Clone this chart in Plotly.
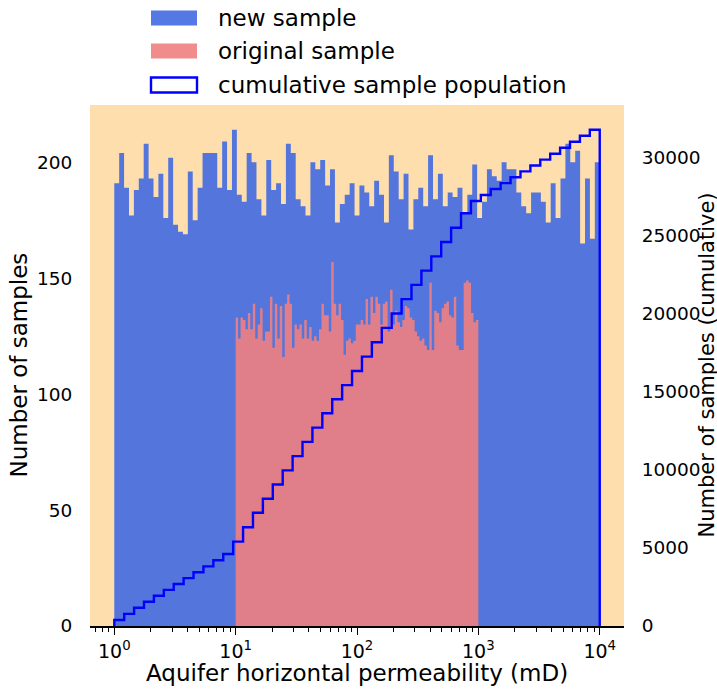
import numpy as np
import plotly.graph_objects as go

# ---------------- data ----------------
new_sample_counts = [
    191, 204, 189, 177, 188, 193, 208, 193, 185, 195,
    176, 202, 173, 170, 169, 196, 175, 189, 204, 204,
    204, 189, 209, 188, 214, 186, 183, 204, 200, 184,
    177, 201, 188, 191, 182, 208, 204, 184, 181, 177,
    200, 197, 201, 190, 197, 174, 182, 186, 191, 177,
    190, 187, 181, 192, 186, 174, 203, 196, 184, 195,
    171, 184, 189, 181, 203, 184, 195, 181, 187, 185,
    189, 178, 186, 199, 176, 183, 197, 194, 192, 200,
    197, 197, 187, 181, 178, 187, 187, 183, 174, 191,
    176, 193, 208, 200, 205, 165, 193, 167, 200,
]
original_sample_counts = [
    133, 124, 133, 132, 128, 135, 128, 139, 124, 130,
    137, 123, 127, 127, 142, 120, 139, 124, 138, 116,
    139, 143, 139, 120, 130, 128, 130, 124, 132, 124,
    129, 123, 125, 123, 128, 139, 134, 134, 127, 157,
    139, 134, 139, 132, 117, 123, 124, 122, 123, 130,
    130, 132, 130, 141, 130, 142, 135, 142, 139, 130,
    139, 140, 127, 145, 130, 136, 131, 129, 132, 138,
    137, 133, 132, 127, 125, 123, 124, 121, 119, 148,
    119, 136, 135, 131, 137, 139, 140, 134, 133, 142,
    121, 119, 119, 148, 149, 148, 135, 131, 132,
]
cumulative_counts = [
    388, 778, 1166, 1554, 1942, 2317, 2693, 3068, 3444, 3820,
    4216, 4613, 5407, 6330, 7250, 8154, 9060, 9970, 10881, 11794,
    12711, 13626, 14529, 15430, 16338, 17254, 18176, 19096, 20016, 20937,
    21852, 22767, 23681, 24596, 25513, 26436, 27224, 27607, 27990, 28370,
    28746, 29123, 29498, 29875, 30254, 30637, 31020, 31403, 31786,
]
new_range = (0, 4)        # log10 of bin range
orig_range = (1, 3)
cum_range = (0, 4)
x_tick_exponents = [0, 1, 2, 3, 4]
left_ticks = [0, 50, 100, 150, 200]
right_ticks = [0, 5000, 10000, 15000, 20000, 25000, 30000]
legend_labels = ["new sample", "original sample", "cumulative sample population"]

# ---------------- styling / layout ----------------
W, H = 717, 689
ML, MR, MT, MB = 90, 93, 105, 63
PW, PH = W - ML - MR, H - MT - MB
FONT = "DejaVu Sans"
BLUE_FILL = "rgba(65,105,225,0.9)"
RED_FILL = "rgba(240,128,128,0.9)"
CUM_LINE = "#0000FF"
BG = "#FFDEAD"
TICK_SIZE = 18.5
LABEL_SIZE = 23


def px_x(px):
    return (px - ML) / PW


def px_y(py):
    return (H - MB - py) / PH


def step_xy(edges, counts):
    x = list(edges)
    y = list(counts) + [counts[-1]]
    return x, y


new_edges = np.logspace(new_range[0], new_range[1], len(new_sample_counts) + 1)
orig_edges = np.logspace(orig_range[0], orig_range[1], len(original_sample_counts) + 1)
cum_edges = np.logspace(cum_range[0], cum_range[1], len(cumulative_counts) + 1)

fig = go.Figure()

nx, ny = step_xy(new_edges, new_sample_counts)
fig.add_trace(go.Scatter(x=nx, y=ny, mode="lines", line=dict(shape="hv", width=0, color=BLUE_FILL),
                         fill="tozeroy", fillcolor=BLUE_FILL, name=legend_labels[0],
                         showlegend=False, hoverinfo="skip"))
ox, oy = step_xy(orig_edges, original_sample_counts)
fig.add_trace(go.Scatter(x=ox, y=oy, mode="lines", line=dict(shape="hv", width=0, color=RED_FILL),
                         fill="tozeroy", fillcolor=RED_FILL, name=legend_labels[1],
                         showlegend=False, hoverinfo="skip"))

# cumulative outline (matplotlib histtype='step')
cx = [cum_edges[0]] + list(cum_edges) + [cum_edges[-1]]
cy = [0] + list(cumulative_counts) + [cumulative_counts[-1], 0]
fig.add_trace(go.Scatter(x=cx, y=cy, mode="lines", line=dict(shape="hv", width=2.4, color=CUM_LINE),
                         name=legend_labels[2], yaxis="y2", showlegend=False, hoverinfo="skip"))

minor_vals = []
for d in range(-1, 5):
    for m in range(2, 10):
        v = m * 10.0 ** d
        if 10 ** -0.2 <= v <= 10 ** 4.2:
            minor_vals.append(v)

fig.update_layout(
    width=W, height=H,
    margin=dict(l=ML, r=MR, t=MT, b=MB),
    paper_bgcolor="white", plot_bgcolor=BG,
    font=dict(family=FONT, size=TICK_SIZE, color="black"),
    showlegend=False,
    xaxis=dict(
        type="log", range=[-0.2, 4.2],
        tickmode="array",
        tickvals=[10 ** e for e in x_tick_exponents],
        ticktext=[f"10<sup>{e}</sup>" for e in x_tick_exponents],
        ticks="outside", ticklen=7, tickwidth=1.3, tickcolor="black",
        showline=True, linecolor="black", linewidth=1.6,
        showgrid=False, zeroline=False,
        minor=dict(tickmode="array", tickvals=minor_vals, ticks="outside", ticklen=4,
                   tickwidth=1, tickcolor="black", showgrid=False),
        tickfont=dict(size=19),
    ),
    yaxis=dict(
        range=[0, 1.05 * max(new_sample_counts)],
        tickmode="array", tickvals=left_ticks, ticktext=[str(v) for v in left_ticks],
        ticks="outside", ticklen=13, tickcolor="rgba(0,0,0,0)",
        showline=False, showgrid=False, zeroline=False,
        tickfont=dict(size=TICK_SIZE),
    ),
    yaxis2=dict(
        overlaying="y", side="right",
        range=[0, 1.05 * max(cumulative_counts)],
        tickmode="array", tickvals=right_ticks, ticktext=[str(v) for v in right_ticks],
        ticks="outside", ticklen=13, tickcolor="rgba(0,0,0,0)",
        showline=False, showgrid=False, zeroline=False,
        tickfont=dict(size=TICK_SIZE),
    ),
)

ann = []
# axis titles
ann.append(dict(text="Aquifer horizontal permeability (mD)", x=0.5, y=px_y(688),
                xref="paper", yref="paper", showarrow=False, xanchor="center", yanchor="bottom",
                font=dict(size=LABEL_SIZE)))
ann.append(dict(text="Number of samples", x=px_x(18), y=0.5,
                xref="paper", yref="paper", showarrow=False, xanchor="center", yanchor="middle",
                textangle=-90, font=dict(size=LABEL_SIZE)))
ann.append(dict(text="Number of samples (cumulative)", x=px_x(706), y=0.5,
                xref="paper", yref="paper", showarrow=False, xanchor="center", yanchor="middle",
                textangle=-90, font=dict(size=21)))

# legend (drawn above the axes, matplotlib style)
legend_rows = [18, 51, 85]
shapes = []
fills = [BLUE_FILL, RED_FILL, "white"]
lines = [dict(width=0), dict(width=0), dict(width=2.4, color=CUM_LINE)]
for i, yc in enumerate(legend_rows):
    shapes.append(dict(type="rect", xref="paper", yref="paper",
                       x0=px_x(151), x1=px_x(197), y0=px_y(yc + 7.5), y1=px_y(yc - 7.5),
                       fillcolor=fills[i], line=lines[i], layer="above"))
    ann.append(dict(text=legend_labels[i], x=px_x(216), y=px_y(yc),
                    xref="paper", yref="paper", showarrow=False, xanchor="left", yanchor="middle",
                    font=dict(size=LABEL_SIZE)))

fig.update_layout(annotations=ann, shapes=shapes)
fig.write_html("out.html", config={"displayModeBar": False},
               post_script="document.body.style.margin='0';document.body.style.padding='0';")
